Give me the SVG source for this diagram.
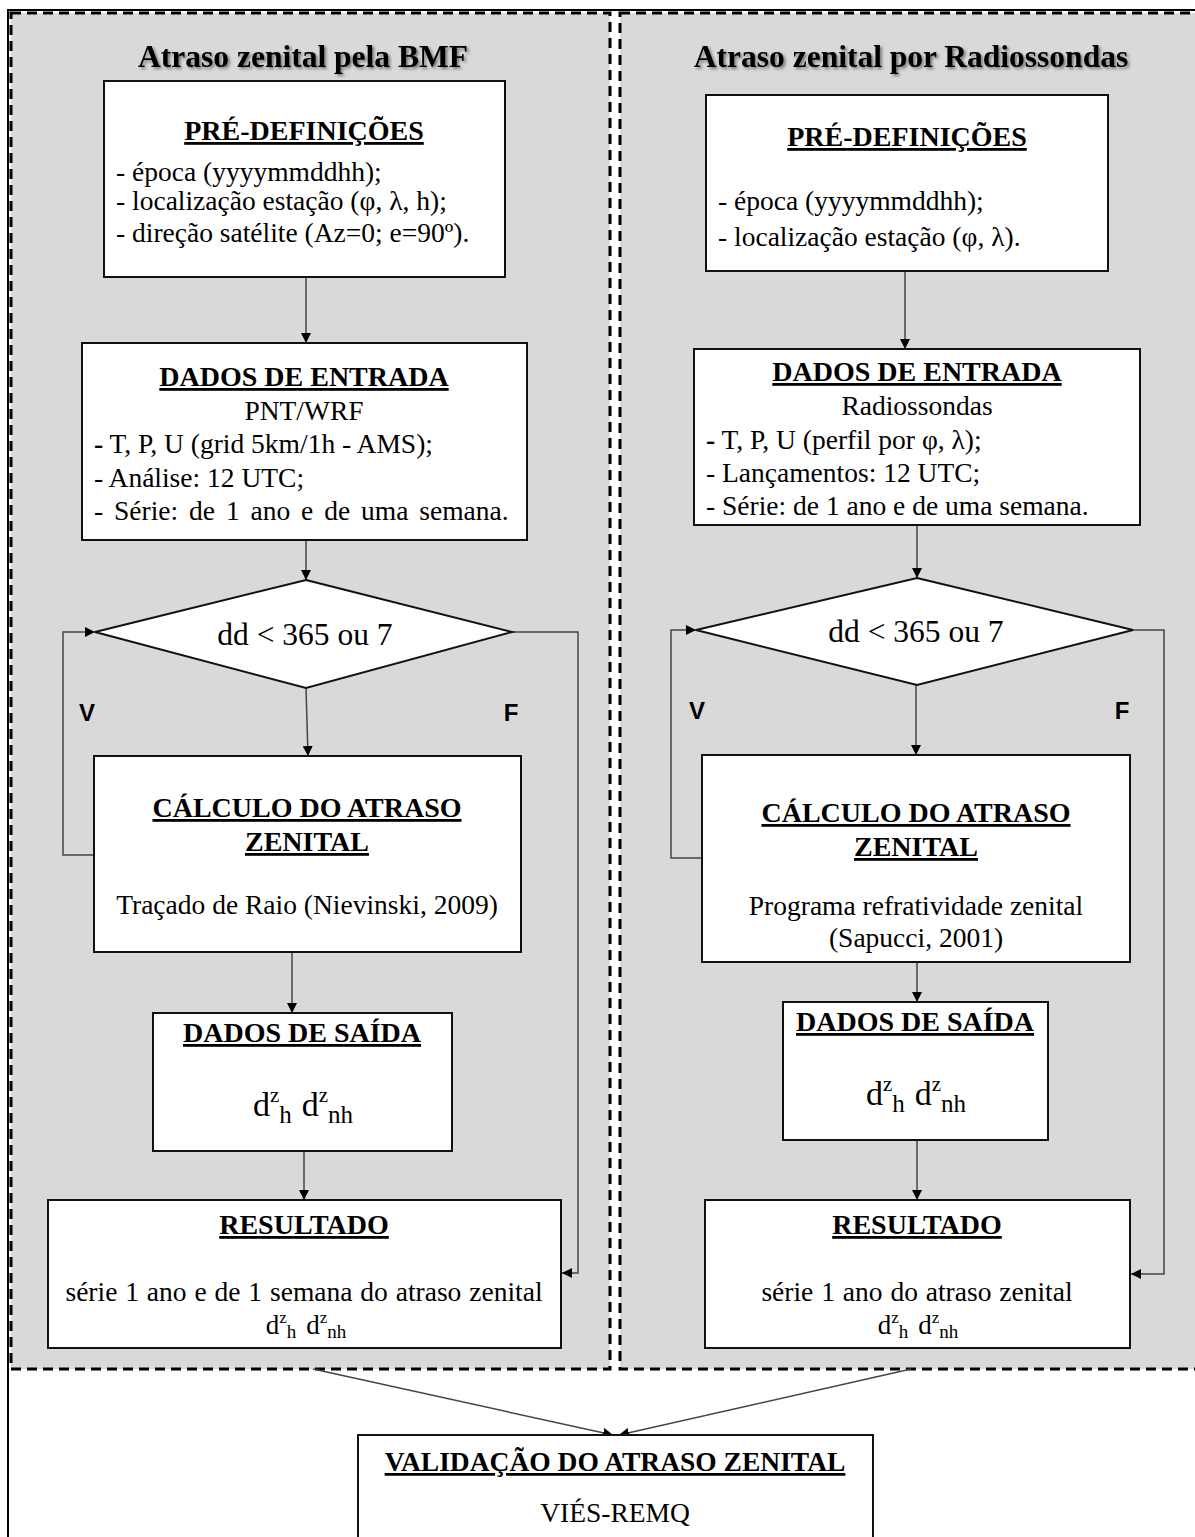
<svg xmlns="http://www.w3.org/2000/svg" width="1195" height="1537" viewBox="0 0 1195 1537">
  <style>
    .t { font-family: "Liberation Serif", "Times New Roman", serif; font-size: 27.5px; fill: #000; }
    .h { font-weight: bold; text-decoration: underline; font-size: 28px; }
    .c { text-anchor: middle; }
    .title { font-family: "Liberation Serif", "Times New Roman", serif; font-size: 31.5px; font-weight: bold; text-anchor: middle; filter: url(#shadow); }
    .vf { font-family: "Liberation Sans", Arial, sans-serif; font-size: 24px; font-weight: bold; text-anchor: middle; }
    .box { fill: #fff; stroke: #111; stroke-width: 2; }
    .panel { fill: #d9d9d9; stroke: #000; stroke-width: 3; stroke-dasharray: 10 6; }
    .conn { fill: none; stroke: #444; stroke-width: 1.5; marker-end: url(#arrow); }
    .dec { font-size: 31.5px; }
    .dz { font-size: 34px; }
    .dzs { font-size: 27px; }
    .val { font-weight: bold; text-decoration: underline; }
  </style>
  <defs>
    <marker id="arrow" viewBox="0 0 10 10" refX="10" refY="5" markerWidth="10" markerHeight="10" markerUnits="userSpaceOnUse" orient="auto">
      <path d="M0,0 L10,5 L0,10 Z" fill="#000"/>
    </marker>
    <filter id="shadow" x="-10%" y="-30%" width="120%" height="160%">
      <feDropShadow dx="2" dy="2" stdDeviation="1.5" flood-color="#000" flood-opacity="0.45"/>
    </filter>
  </defs>

  <rect width="1195" height="1537" fill="#fff"/>

  <!-- outer frame -->
  <rect x="8" y="10" width="1200" height="1540" fill="none" stroke="#000" stroke-width="2"/>

  <!-- panels -->
  <g id="panel-bmf">
    <rect class="panel" x="11" y="13" width="599" height="1356"/>
    <text class="title" x="303" y="67">Atraso zenital pela BMF</text>
  </g>
  <g id="panel-radio">
    <rect class="panel" x="620" y="13" width="590" height="1356"/>
    <text class="title" x="911" y="67">Atraso zenital por Radiossondas</text>
  </g>

  <!-- connectors -->
  <g id="connectors">
    <!-- left column -->
    <line class="conn" x1="306" y1="277" x2="306" y2="343"/>
    <line class="conn" x1="306" y1="540" x2="306" y2="580"/>
    <line class="conn" x1="306" y1="688" x2="308" y2="756"/>
    <polyline class="conn" points="94,855 63,855 63,632 95,632"/>
    <polyline class="conn" points="512,632 578,632 578,1273 562,1273"/>
    <line class="conn" x1="292" y1="952" x2="292" y2="1013"/>
    <line class="conn" x1="304" y1="1151" x2="304" y2="1200"/>
    <!-- right column -->
    <line class="conn" x1="905" y1="271" x2="905" y2="349"/>
    <line class="conn" x1="917" y1="525" x2="917" y2="578"/>
    <line class="conn" x1="916" y1="685" x2="916" y2="755"/>
    <polyline class="conn" points="702,858 671,858 671,630 696,630"/>
    <polyline class="conn" points="1133,630 1164,630 1164,1274 1131,1274"/>
    <line class="conn" x1="917" y1="962" x2="917" y2="1002"/>
    <line class="conn" x1="917" y1="1140" x2="917" y2="1200"/>
    <!-- to validation -->
    <line class="conn" x1="313" y1="1369" x2="613" y2="1435"/>
    <line class="conn" x1="911" y1="1369" x2="619" y2="1435"/>
  </g>

  <!-- V / F labels -->
  <g id="labels" class="vf">
    <text x="87" y="721">V</text>
    <text x="511" y="721">F</text>
    <text x="697" y="719">V</text>
    <text x="1122" y="719">F</text>
  </g>

  <!-- left column nodes -->
  <g id="bmf-predef">
    <rect class="box" x="104" y="81" width="401" height="196"/>
    <text class="t h c" x="304" y="140">PRÉ-DEFINIÇÕES</text>
    <text class="t" x="116" y="181">- época (yyyymmddhh);</text>
    <text class="t" x="116" y="210">- localização estação (φ, λ, h);</text>
    <text class="t" x="116" y="242">- direção satélite (Az=0; e=90º).</text>
  </g>
  <g id="bmf-entrada">
    <rect class="box" x="82" y="343" width="445" height="197"/>
    <text class="t h c" x="304" y="386">DADOS DE ENTRADA</text>
    <text class="t c" x="304" y="420">PNT/WRF</text>
    <text class="t" x="94" y="453"><tspan font-weight="bold">-</tspan> T, P, U (grid 5km/1h - AMS);</text>
    <text class="t" x="94" y="487">- Análise: 12 UTC;</text>
    <text class="t" x="94" y="520" word-spacing="4">- Série: de 1 ano e de uma semana.</text>
  </g>
  <g id="bmf-decisao">
    <polygon class="box" points="306,580 512,632 306,688 95,632"/>
    <text class="t c dec" x="305" y="645">dd &lt; 365 ou 7</text>
  </g>
  <g id="bmf-calculo">
    <rect class="box" x="94" y="756" width="427" height="196"/>
    <text class="t h c" x="307" y="817">CÁLCULO DO ATRASO</text>
    <text class="t h c" x="307" y="851">ZENITAL</text>
    <text class="t c" x="307" y="914">Traçado de Raio (Nievinski, 2009)</text>
  </g>
  <g id="bmf-saida">
    <rect class="box" x="153" y="1013" width="299" height="138"/>
    <text class="t h c" x="302" y="1042">DADOS DE SAÍDA</text>
    <text class="t c dz" x="303" y="1116">d<tspan font-size="21" dy="-14">z</tspan><tspan font-size="25" dy="21">h</tspan><tspan dx="10" dy="-7">d</tspan><tspan font-size="21" dy="-14">z</tspan><tspan font-size="25" dy="21">nh</tspan></text>
  </g>
  <g id="bmf-resultado">
    <rect class="box" x="48" y="1200" width="513" height="148"/>
    <text class="t h c" x="304" y="1234">RESULTADO</text>
    <text class="t c" x="304" y="1301" word-spacing="1">série 1 ano e de 1 semana do atraso zenital</text>
    <text class="t c dzs" x="306" y="1334">d<tspan font-size="17" dy="-11">z</tspan><tspan font-size="19" dy="15">h</tspan><tspan dx="10" dy="-4">d</tspan><tspan font-size="17" dy="-11">z</tspan><tspan font-size="19" dy="15">nh</tspan></text>
  </g>

  <!-- right column nodes -->
  <g id="radio-predef">
    <rect class="box" x="706" y="95" width="402" height="176"/>
    <text class="t h c" x="907" y="146">PRÉ-DEFINIÇÕES</text>
    <text class="t" x="718" y="210">- época (yyyymmddhh);</text>
    <text class="t" x="718" y="246">- localização estação (φ, λ).</text>
  </g>
  <g id="radio-entrada">
    <rect class="box" x="694" y="349" width="446" height="176"/>
    <text class="t h c" x="917" y="381">DADOS DE ENTRADA</text>
    <text class="t c" x="917" y="415">Radiossondas</text>
    <text class="t" x="706" y="449"><tspan font-weight="bold">-</tspan> T, P, U (perfil por φ, λ);</text>
    <text class="t" x="706" y="482">- Lançamentos: 12 UTC;</text>
    <text class="t" x="706" y="515">- Série: de 1 ano e de uma semana.</text>
  </g>
  <g id="radio-decisao">
    <polygon class="box" points="917,578 1133,630 917,685 696,630"/>
    <text class="t c dec" x="916" y="642">dd &lt; 365 ou 7</text>
  </g>
  <g id="radio-calculo">
    <rect class="box" x="702" y="755" width="428" height="207"/>
    <text class="t h c" x="916" y="822">CÁLCULO DO ATRASO</text>
    <text class="t h c" x="916" y="856">ZENITAL</text>
    <text class="t c" x="916" y="915">Programa refratividade zenital</text>
    <text class="t c" x="916" y="947">(Sapucci, 2001)</text>
  </g>
  <g id="radio-saida">
    <rect class="box" x="783" y="1002" width="265" height="138"/>
    <text class="t h c" x="915" y="1031">DADOS DE SAÍDA</text>
    <text class="t c dz" x="916" y="1105">d<tspan font-size="21" dy="-14">z</tspan><tspan font-size="25" dy="21">h</tspan><tspan dx="10" dy="-7">d</tspan><tspan font-size="21" dy="-14">z</tspan><tspan font-size="25" dy="21">nh</tspan></text>
  </g>
  <g id="radio-resultado">
    <rect class="box" x="705" y="1200" width="425" height="148"/>
    <text class="t h c" x="917" y="1234">RESULTADO</text>
    <text class="t c" x="917" y="1301" word-spacing="1">série 1 ano do atraso zenital</text>
    <text class="t c dzs" x="918" y="1334">d<tspan font-size="17" dy="-11">z</tspan><tspan font-size="19" dy="15">h</tspan><tspan dx="10" dy="-4">d</tspan><tspan font-size="17" dy="-11">z</tspan><tspan font-size="19" dy="15">nh</tspan></text>
  </g>

  <!-- validation node -->
  <g id="validacao">
    <rect class="box" x="358" y="1435" width="515" height="110"/>
    <text class="t c val" x="615" y="1471">VALIDAÇÃO DO ATRASO ZENITAL</text>
    <text class="t c" x="615" y="1522">VIÉS-REMQ</text>
  </g>
</svg>
